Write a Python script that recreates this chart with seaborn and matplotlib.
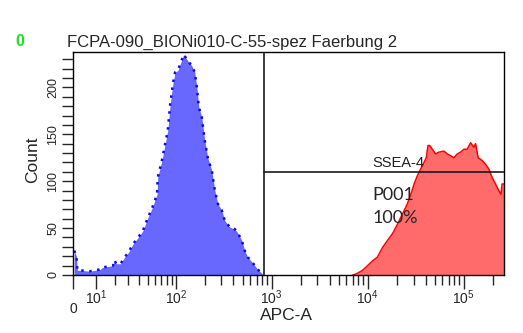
import numpy as np
import matplotlib
matplotlib.use("Agg")
import matplotlib.pyplot as plt
import seaborn as sns

# ---------------- data ----------------
blue_apc = [0.5, 1.4, 1.8, 3, 7, 12, 13, 16, 19, 20, 21, 24, 27, 30, 34, 39, 44, 50,
            56, 63, 64, 71, 77, 82, 87, 93, 98, 105, 116, 121, 134, 147, 158, 166,
            174, 187, 201, 216, 238, 256, 275, 302, 325, 366, 412, 443, 488, 524,
            563, 634, 714, 767, 824]
blue_count = [26, 20, 5, 5, 4, 6, 8, 9, 10, 16, 12, 12, 19, 24, 33, 40, 47, 61,
              72, 86, 104, 122, 140, 154, 182, 204, 216, 218, 230, 235, 228, 223, 216, 200,
              179, 168, 143, 125, 111, 90, 76, 69, 58, 51, 49, 45, 37, 26,
              19, 13, 6, 3, 0]

red_apc = [6960, 7550, 8840, 9960, 11200, 12600, 14200, 16100, 18100, 20400, 23000,
           25900, 28100, 30400, 32900, 35600, 38600, 40700, 42400, 44200, 47000,
           51000, 55200, 62200, 67300, 73000, 79000, 85500, 92700, 100300, 108400,
           117700, 127300, 132600, 141100, 155300, 168400, 182200, 197000, 213800,
           231200, 244200, 250200, 262144]
red_count = [0, 1, 5, 10, 15, 19, 29, 37, 44, 54, 65,
             76, 86, 97, 106, 113, 120, 125, 138, 138, 134,
             129, 131, 132, 129, 127, 125, 129, 131, 134, 134,
             141, 136, 140, 125, 122, 118, 113, 104, 97,
             90, 86, 97, 97]

x_major = [0, 10, 100, 1000, 10000, 100000]
x_major_labels = ["", r"$\mathregular{10^1}$", r"$\mathregular{10^2}$",
                  r"$\mathregular{10^3}$", r"$\mathregular{10^4}$", r"$\mathregular{10^5}$"]
x_minor = [m * d for d in (10, 100, 1000, 10000) for m in range(2, 10)] + [200000]
y_major = [0, 50, 100, 150, 200]
y_minor = list(range(0, 240, 10))

gate_x = 824
gate_y = 109.5
x_max = 262144
y_max = 238

title = "FCPA-090_BIONi010-C-55-spez Faerbung 2"

# ---------------- drawing ----------------
sns.set_style("white")
plt.rcParams["font.family"] = ["Liberation Sans", "DejaVu Sans"]
plt.rcParams["mathtext.fontset"] = "custom"
plt.rcParams["mathtext.rm"] = "Liberation Sans"

W, H = 523, 333
fig = plt.figure(figsize=(W / 100, H / 100), dpi=100)
ax = fig.add_axes([73 / W, 58 / H, 431 / W, 223.3 / H])
ax.set_xscale("asinh", linear_width=17.1)
ax.set_xlim(0, x_max)
ax.set_ylim(0, y_max)

ax.fill_between(blue_apc, blue_count, color="#6868FF", lw=0, zorder=1)
sns.lineplot(x=blue_apc, y=blue_count, ax=ax, color="#0A0AE6", lw=1.8,
             linestyle=(0, (1, 2.2)), zorder=2)
ax.fill_between(red_apc, red_count, color="#FF6B6B", lw=0, zorder=1)
sns.lineplot(x=red_apc, y=red_count, ax=ax, color="#FF0000", lw=1.1, zorder=2)

# gates
ax.axvline(gate_x, color="#1a1a1a", lw=1.2, zorder=3)
ax.plot([gate_x, x_max], [gate_y, gate_y], color="#1a1a1a", lw=1.2, zorder=3)
ax.text(11100, gate_y + 2, "SSEA-4", fontsize=10.5, color="#222222",
        ha="left", va="bottom", zorder=4)
ax.text(11100, 85, "P001", fontsize=13, family=["Lato", "DejaVu Sans"],
        ha="left", va="center", zorder=4)
ax.text(11100, 61, "100%", fontsize=13, family=["Lato", "DejaVu Sans"],
        ha="left", va="center", zorder=4)

# axes styling
for s in ax.spines.values():
    s.set_color("black")
    s.set_linewidth(1.0)
ax.set_xticks(x_major)
ax.set_xticklabels(x_major_labels)
ax.set_xticks(x_minor, minor=True)
ax.set_yticks(y_major)
ax.set_yticks(y_minor, minor=True)
ax.tick_params(axis="x", which="major", direction="out", length=10, width=1,
               labelsize=10, pad=0, bottom=True)
ax.tick_params(axis="x", which="minor", direction="out", length=7, width=1, bottom=True)
ax.tick_params(axis="y", which="major", direction="out", length=8, width=1,
               labelsize=9, pad=2, labelrotation=90, left=True)
ax.tick_params(axis="y", which="minor", direction="out", length=8, width=1, left=True)
for lab in ax.get_yticklabels():
    lab.set_va("center")
ax.set_xlabel("")
ax.set_ylabel("")

fig.text(73 / W, 1 - 309 / H, "0", fontsize=10, ha="center", va="center")
fig.text(286 / W, 1 - 316 / H, "APC-A", fontsize=12.5, ha="center", va="center")
fig.text(33 / W, 1 - 160 / H, "Count", fontsize=12.5, rotation=90,
         ha="center", va="center")
fig.text(67 / W, 1 - 42 / H, title, fontsize=12, ha="left", va="center")
fig.text(20 / W, 1 - 42 / H, "0", fontsize=11.5, color="#22DD22",
         fontweight="bold", ha="center", va="center")

fig.savefig("out.png", dpi=100)
